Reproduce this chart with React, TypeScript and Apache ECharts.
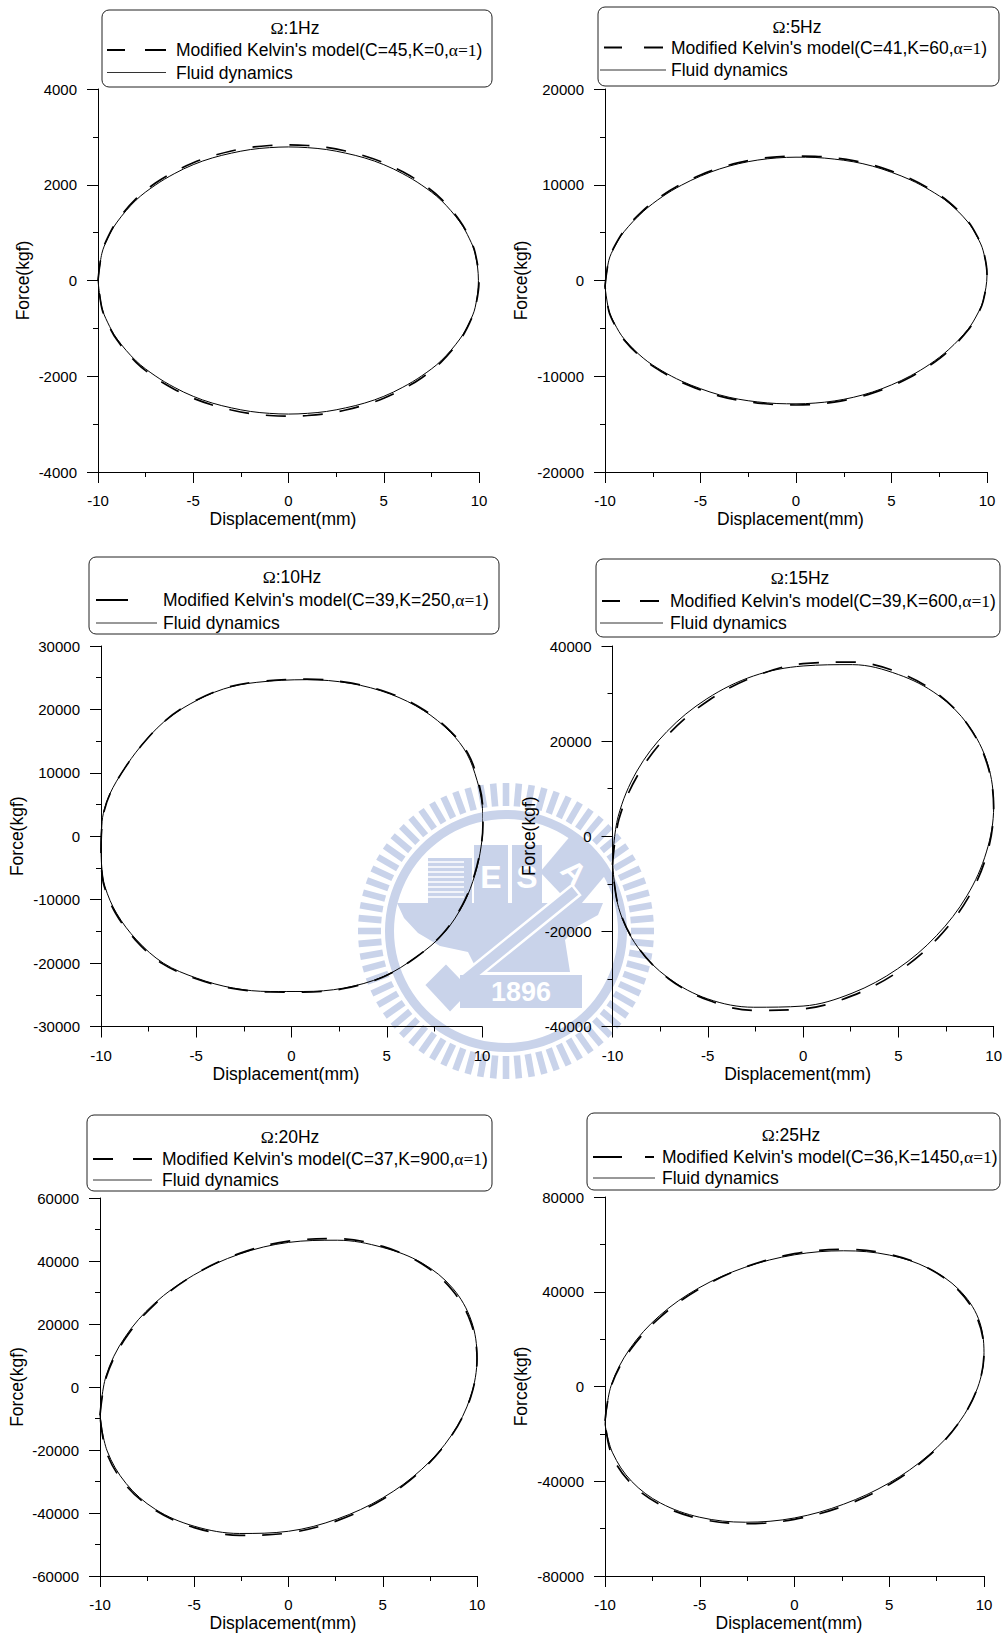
import React, { useEffect, useRef } from 'react';
import * as echarts from 'echarts';

// ---------------- DATA ----------------
const frequencies = ['1Hz', '5Hz', '10Hz', '15Hz', '20Hz', '25Hz'];
const modelParams = ['C=45,K=0,', 'C=41,K=60,', 'C=39,K=250,', 'C=39,K=600,', 'C=37,K=900,', 'C=36,K=1450,'];
const xTickValues = [-10, -5, 0, 5, 10];
// [min, max, interval] of each panel's force axis
const yRanges = [
  [-4000, 4000, 2000],
  [-20000, 20000, 10000],
  [-30000, 30000, 10000],
  [-40000, 40000, 20000],
  [-60000, 60000, 20000],
  [-80000, 80000, 40000],
];

// Ω:1Hz
const p1Fluid = [
  [-10, 0], [-9.8, 560], [-9.5, 870], [-9, 1220], [-8, 1680], [-7, 1990], [-6, 2230], [-5, 2420], [-4, 2560], [-3, 2660], [-2, 2735], [-1, 2775], [0, 2790],
  [1, 2775], [2, 2735], [3, 2660], [4, 2560], [5, 2420], [6, 2230], [7, 1990], [8, 1680], [9, 1220], [9.5, 870], [9.8, 560], [9.97, 0],
  [9.8, -560], [9.5, -870], [9, -1220], [8, -1680], [7, -1990], [6, -2230], [5, -2420], [4, -2560], [3, -2660], [2, -2735], [1, -2775], [0, -2790],
  [-1, -2775], [-2, -2735], [-3, -2660], [-4, -2560], [-5, -2420], [-6, -2230], [-7, -1990], [-8, -1680], [-9, -1220], [-9.5, -870], [-9.8, -560], [-10, 0],
];
const p1Model = [
  [-10, 0], [-9.8, 575], [-9.5, 890], [-9, 1245], [-8, 1710], [-7, 2030], [-6, 2270], [-5, 2460], [-4, 2600], [-3, 2705], [-2, 2780], [-1, 2820], [0, 2835],
  [1, 2820], [2, 2780], [3, 2705], [4, 2600], [5, 2460], [6, 2270], [7, 2030], [8, 1710], [9, 1245], [9.5, 890], [9.8, 575], [10, 0],
  [9.8, -575], [9.5, -890], [9, -1245], [8, -1710], [7, -2030], [6, -2270], [5, -2460], [4, -2600], [3, -2705], [2, -2780], [1, -2820], [0, -2835],
  [-1, -2820], [-2, -2780], [-3, -2705], [-4, -2600], [-5, -2460], [-6, -2270], [-7, -2030], [-8, -1710], [-9, -1245], [-9.5, -890], [-9.8, -575], [-10, 0],
];

// Ω:5Hz
const p2Fluid = [
  [-10, -600], [-9.8, 2100], [-9.5, 3500], [-9, 5100], [-8, 7200], [-7, 8750], [-6, 9950], [-5, 10900], [-4, 11650], [-3, 12200], [-2, 12580], [-1, 12800], [0, 12880],
  [1, 12850], [2, 12680], [3, 12400], [4, 11950], [5, 11300], [6, 10500], [7, 9450], [8, 8100], [9, 6100], [9.5, 4500], [9.8, 3100], [10, 600],
  [9.8, -2100], [9.5, -3500], [9, -5100], [8, -7200], [7, -8750], [6, -9950], [5, -10900], [4, -11650], [3, -12200], [2, -12580], [1, -12800], [0, -12880],
  [-1, -12850], [-2, -12680], [-3, -12400], [-4, -11950], [-5, -11300], [-6, -10500], [-7, -9450], [-8, -8100], [-9, -6100], [-9.5, -4500], [-9.8, -3100], [-10, -600],
];
const p2Model = [
  [-10, -600], [-9.8, 2150], [-9.5, 3580], [-9, 5200], [-8, 7330], [-7, 8880], [-6, 10080], [-5, 11020], [-4, 11760], [-3, 12310], [-2, 12700], [-1, 12920], [0, 13000],
  [1, 12970], [2, 12800], [3, 12520], [4, 12070], [5, 11420], [6, 10620], [7, 9560], [8, 8200], [9, 6200], [9.5, 4580], [9.8, 3180], [10, 600],
  [9.8, -2150], [9.5, -3580], [9, -5200], [8, -7330], [7, -8880], [6, -10080], [5, -11020], [4, -11760], [3, -12310], [2, -12700], [1, -12920], [0, -13000],
  [-1, -12970], [-2, -12800], [-3, -12520], [-4, -12070], [-5, -11420], [-6, -10620], [-7, -9560], [-8, -8200], [-9, -6200], [-9.5, -4580], [-9.8, -3180], [-10, -600],
];

// Ω:10Hz
const p3Fluid = [
  [-10, -1680], [-9.97, 1000], [-9.88, 3560], [-9.53, 6710], [-8.83, 10380], [-7.95, 14050], [-6.72, 17980], [-5.32, 20860], [-3.57, 23220], [-1.82, 24270],
  [0.81, 24690], [3.08, 24110], [5.18, 22430], [6.94, 19810], [8.34, 16400], [9.21, 13000], [9.74, 8800], [10, 5140], [10.05, 1990], [9.95, -1680],
  [9.65, -5870], [9.04, -10590], [7.99, -15300], [6.58, -18970], [4.83, -22120], [2.73, -23950], [0.63, -24480], [-1.12, -24480], [-3.05, -23950],
  [-4.97, -22380], [-6.72, -20020], [-8.13, -16350], [-9.18, -12160], [-9.79, -7970], [-9.96, -4820], [-10, -1680],
];
const p3Model = [
  [-10, -2000], [-9.97, 800], [-9.86, 3700], [-9.48, 7000], [-8.76, 10700], [-7.88, 14300], [-6.64, 18200], [-5.25, 21050], [-3.5, 23350], [-1.75, 24380],
  [0.81, 24780], [3.1, 24180], [5.2, 22520], [6.98, 19880], [8.4, 16400], [9.28, 12950], [9.8, 8700], [10.03, 5000], [10.05, 1800], [9.93, -1900],
  [9.6, -6100], [8.98, -10800], [7.9, -15500], [6.5, -19150], [4.75, -22260], [2.7, -24050], [0.6, -24580], [-1.12, -24560], [-3.1, -24000],
  [-5.05, -22430], [-6.8, -20050], [-8.2, -16330], [-9.24, -12100], [-9.83, -7900], [-9.98, -4800], [-10, -2000],
];

// Ω:15Hz
const p4Fluid = [
  [-10, -5000], [-9.7, 4200], [-8.72, 13700], [-7.15, 22000], [-5.05, 28900], [-2.6, 33700], [0, 35800], [2.59, 36080], [5, 34000], [7.07, 29700],
  [8.66, 23400], [9.68, 15300], [10, 6200], [9.62, -3300], [8.6, -12500], [7.0, -20900], [4.95, -27900], [2.57, -33000], [0, -35700],
  [-2.59, -35950], [-5, -34200], [-7.07, -29800], [-8.68, -23300], [-9.68, -15000], [-10, -5000],
];
const p4Model = [
  [-10, -6000], [-9.66, 3600], [-8.66, 12950], [-7.07, 21420], [-5, 28440], [-2.59, 33510], [0, 36300], [2.59, 36620], [5, 34440], [7.07, 29910],
  [8.66, 23350], [9.66, 15190], [10, 6000], [9.66, -3600], [8.66, -12950], [7.07, -21420], [5, -28440], [2.59, -33510], [0, -36300],
  [-2.59, -36620], [-5, -34440], [-7.07, -29910], [-8.66, -23350], [-9.66, -15190], [-10, -6000],
];

// Ω:20Hz
const p5Fluid = [
  [-10, -9300], [-9.68, 3500], [-8.7, 15600], [-7.12, 26500], [-5.04, 35500], [-2.6, 42200], [0, 45900], [2.59, 46600], [5, 44300], [7.1, 39300],
  [8.72, 31300], [9.7, 21000], [10, 9400], [9.66, -3100], [8.66, -15200], [7.07, -26100], [5, -35200], [2.59, -41900], [0, -45800],
  [-2.59, -46500], [-5, -44200], [-7.07, -38800], [-8.62, -30600], [-9.62, -20300], [-10, -9300],
];
const p5Model = [
  [-10, -9000], [-9.66, 3298], [-8.66, 15373], [-7.07, 26399], [-5, 35626], [-2.59, 42426], [0, 46334], [2.59, 47084], [5, 44626], [7.07, 39127],
  [8.66, 30961], [9.66, 20686], [10, 9000], [9.66, -3298], [8.66, -15373], [7.07, -26399], [5, -35626], [2.59, -42426], [0, -46334],
  [-2.59, -47084], [-5, -44626], [-7.07, -39127], [-8.66, -30961], [-9.66, -20686], [-10, -9000],
];

// Ω:25Hz
const p6Fluid = [
  [-10, -16000], [-9.68, 300], [-8.7, 15800], [-7.12, 29900], [-5.05, 41600], [-2.62, 50300], [0, 55600], [2.59, 57300], [5, 55500], [7.07, 49900],
  [8.68, 40900], [9.7, 28800], [10, 14300], [9.66, -600], [8.66, -15400], [7.07, -29000], [5, -40700], [2.59, -49700], [0, -55500],
  [-2.59, -57300], [-5, -55200], [-7.07, -49200], [-8.6, -40000], [-9.6, -28000], [-10, -16000],
];
const p6Model = [
  [-10, -14500], [-9.66, 513], [-8.66, 15491], [-7.07, 29413], [-5, 41330], [-2.59, 50432], [0, 56096], [2.59, 57938], [5, 55830], [7.07, 49919],
  [8.66, 40605], [9.66, 28525], [10, 14500], [9.66, -513], [8.66, -15491], [7.07, -29413], [5, -41330], [2.59, -50432], [0, -56096],
  [-2.59, -57938], [-5, -55830], [-7.07, -49919], [-8.66, -40605], [-9.66, -28525], [-10, -14500],
];

const fluidSeries = [p1Fluid, p2Fluid, p3Fluid, p4Fluid, p5Fluid, p6Fluid];
const modelSeries = [p1Model, p2Model, p3Model, p4Model, p5Model, p6Model];

// ---------------- LAYOUT ----------------
const FONT = "'Liberation Sans', Arial, sans-serif";
const SERIF = "'Liberation Serif', 'Times New Roman', serif";
const WM = '#c9d3ea';

const gridBoxes = [
  { left: 98, top: 89, width: 381, height: 383, nameGap: 66 },
  { left: 605, top: 89, width: 382, height: 383, nameGap: 75 },
  { left: 101, top: 646, width: 381, height: 380.5, nameGap: 75 },
  { left: 612.5, top: 646, width: 381.5, height: 380.5, nameGap: 75 },
  { left: 100, top: 1198, width: 377, height: 378.5, nameGap: 74 },
  { left: 605, top: 1197, width: 379, height: 379.5, nameGap: 75 },
];

const legendBoxes = [
  { box: [102, 10, 390, 77], tx: 295, rows: [28, 50, 72.5], textX: 176, dash: [[107, 125], [145, 166]], solid: [107, 166] },
  { box: [598, 7, 401, 79], tx: 797, rows: [27, 47.5, 70], textX: 671, dash: [[604, 622], [644, 663]], solid: [600, 666] },
  { box: [89, 557, 410, 77], tx: 292, rows: [577, 600, 623], textX: 163, dash: [[96, 128]], solid: [96, 157] },
  { box: [596, 559, 404, 78], tx: 800, rows: [578, 601, 623], textX: 670, dash: [[602, 620], [640, 659]], solid: [600, 663] },
  { box: [87, 1115, 405, 76], tx: 290, rows: [1137, 1159, 1180], textX: 162, dash: [[93, 113], [133, 152]], solid: [93, 152] },
  { box: [587, 1113, 413, 77], tx: 791, rows: [1135, 1157, 1178], textX: 662, dash: [[593, 622], [645, 654]], solid: [593, 655] },
];

function buildWatermark(): any[] {
  const cx = 506;
  const cy = 931;
  const els: any[] = [];
  const n = 72;
  for (let i = 0; i < n; i++) {
    els.push({
      type: 'rect', x: cx, y: cy, rotation: (i / n) * Math.PI * 2,
      shape: { x: -3.3, y: -148, width: 6.6, height: 23 },
      style: { fill: WM }, z: -10, silent: true,
    });
  }
  els.push({ type: 'ring', shape: { cx, cy, r: 121, r0: 112 }, style: { fill: WM }, z: -10, silent: true });
  // striped block
  els.push({ type: 'rect', shape: { x: 428, y: 858, width: 44, height: 45 }, style: { fill: WM }, z: -10, silent: true });
  for (let k = 0; k < 8; k++) {
    els.push({ type: 'line', shape: { x1: 428, y1: 862 + k * 5, x2: 464, y2: 862 + k * 5 }, style: { stroke: '#fff', lineWidth: 1.6 }, z: -9, silent: true });
  }
  // E and S blocks
  els.push({ type: 'rect', shape: { x: 474, y: 845, width: 34, height: 58 }, style: { fill: WM }, z: -10, silent: true });
  els.push({ type: 'rect', shape: { x: 512, y: 845, width: 30, height: 58 }, style: { fill: WM }, z: -10, silent: true });
  els.push({ type: 'text', x: 491, y: 877, style: { text: 'E', fill: '#fff', font: `bold 32px ${FONT}`, align: 'center', verticalAlign: 'middle' }, z: -9, silent: true });
  els.push({ type: 'text', x: 527, y: 877, style: { text: 'S', fill: '#fff', font: `bold 32px ${FONT}`, align: 'center', verticalAlign: 'middle' }, z: -9, silent: true });
  // A tilted box
  els.push({ type: 'polygon', shape: { points: [[572, 834], [608, 872], [576, 910], [540, 872]] }, style: { fill: WM }, z: -10, silent: true });
  els.push({ type: 'text', x: 574, y: 872, rotation: -Math.PI / 4, style: { text: 'A', fill: '#fff', font: `bold 30px ${FONT}`, align: 'center', verticalAlign: 'middle' }, z: -9, silent: true });
  // hull / anvil
  els.push({
    type: 'polygon',
    shape: { points: [[397, 903], [603, 903], [598, 915], [578, 926], [565, 940], [570, 972], [478, 972], [468, 952], [440, 946], [418, 933], [404, 918]] },
    style: { fill: WM }, z: -10, silent: true,
  });
  // hammer handle
  els.push({
    type: 'polygon',
    shape: { points: [[440, 992], [572, 885], [580, 895], [448, 1002]] },
    style: { fill: WM, stroke: '#fff', lineWidth: 2.5 }, z: -9, silent: true,
  });
  // hammer head
  els.push({ type: 'polygon', shape: { points: [[424, 985], [446, 963], [472, 990], [450, 1013]] }, style: { fill: WM, stroke: '#fff', lineWidth: 2 }, z: -9, silent: true });
  // banner 1896
  els.push({ type: 'rect', shape: { x: 460, y: 975, width: 122, height: 33 }, style: { fill: WM }, z: -9, silent: true });
  els.push({ type: 'text', x: 521, y: 992, style: { text: '1896', fill: '#fff', font: `bold 27px ${FONT}`, align: 'center', verticalAlign: 'middle' }, z: -8, silent: true });
  return els;
}

function buildLegends(): any[] {
  const els: any[] = [];
  legendBoxes.forEach((lb, i) => {
    const [bx, by, bw, bh] = lb.box;
    els.push({ type: 'rect', shape: { x: bx, y: by, width: bw, height: bh, r: 7 }, style: { fill: '#fff', stroke: '#222', lineWidth: 1 }, z: 20 });
    els.push({
      type: 'text', x: lb.tx, y: lb.rows[0], z: 21,
      style: {
        text: `{o|Ω}:${frequencies[i]}`, fill: '#000', fontFamily: FONT, fontSize: 17.5, align: 'center', verticalAlign: 'middle',
        rich: { o: { fontFamily: SERIF, fontSize: 17.5, fill: '#000' } },
      },
    });
    lb.dash.forEach((seg) => {
      els.push({ type: 'line', shape: { x1: seg[0], y1: lb.rows[1], x2: seg[1], y2: lb.rows[1] }, style: { stroke: '#000', lineWidth: 2 }, z: 21 });
    });
    els.push({
      type: 'text', x: lb.textX, y: lb.rows[1], z: 21,
      style: {
        text: `Modified Kelvin's model(${modelParams[i]}{g|α=1})`, fill: '#000', fontFamily: FONT, fontSize: 17.5, align: 'left', verticalAlign: 'middle',
        rich: { g: { fontFamily: SERIF, fontSize: 17.5, fill: '#000' } },
      },
    });
    els.push({ type: 'line', shape: { x1: lb.solid[0], y1: lb.rows[2], x2: lb.solid[1], y2: lb.rows[2] }, style: { stroke: '#333', lineWidth: 1 }, z: 21 });
    els.push({
      type: 'text', x: lb.textX, y: lb.rows[2], z: 21,
      style: { text: 'Fluid dynamics', fill: '#000', fontFamily: FONT, fontSize: 17.5, align: 'left', verticalAlign: 'middle' },
    });
  });
  return els;
}

export default function App() {
  const ref = useRef<HTMLDivElement>(null);
  useEffect(() => {
    if (!ref.current) return;
    const chart = echarts.init(ref.current, undefined, { renderer: 'svg' });
    const axisCommon = {
      axisLine: { show: true, onZero: false, lineStyle: { color: '#000', width: 1 } },
      axisTick: { show: true, inside: false, length: 11, lineStyle: { color: '#000', width: 1 } },
      minorTick: { show: true, splitNumber: 2, length: 5, lineStyle: { color: '#000', width: 1 } },
      splitLine: { show: false },
      minorSplitLine: { show: false },
    };
    const plain = (v: number) => String(v);
    const option: any = {
      animation: false,
      backgroundColor: '#fff',
      grid: gridBoxes.map((g) => ({ left: g.left, top: g.top, width: g.width, height: g.height, containLabel: false })),
      xAxis: gridBoxes.map((g, i) => ({
        type: 'value', gridIndex: i, min: xTickValues[0], max: xTickValues[xTickValues.length - 1], interval: 5,
        ...axisCommon,
        axisLabel: { color: '#000', fontSize: 15, fontFamily: FONT, margin: 21, formatter: plain },
        name: 'Displacement(mm)', nameLocation: 'middle', nameGap: 38,
        nameTextStyle: { color: '#000', fontSize: 17.5, fontFamily: FONT, padding: [0, 11, 0, 0] },
      })),
      yAxis: gridBoxes.map((g, i) => ({
        type: 'value', gridIndex: i, min: yRanges[i][0], max: yRanges[i][1], interval: yRanges[i][2],
        ...axisCommon,
        axisLabel: { color: '#000', fontSize: 15, fontFamily: FONT, margin: 21, formatter: plain },
        name: 'Force(kgf)', nameLocation: 'middle', nameGap: g.nameGap, nameRotate: 90,
        nameTextStyle: { color: '#000', fontSize: 17.5, fontFamily: FONT },
      })),
      series: [
        ...fluidSeries.map((d, i) => ({
          type: 'line', xAxisIndex: i, yAxisIndex: i, data: d, showSymbol: false, symbol: 'none', smooth: 0.35, clip: false, silent: true,
          lineStyle: { color: '#000', width: 1 }, z: 3,
        })),
        ...modelSeries.map((d, i) => ({
          type: 'line', xAxisIndex: i, yAxisIndex: i, data: d, showSymbol: false, symbol: 'none', smooth: 0.35, clip: false, silent: true,
          lineStyle: { color: '#000', width: 1.7, type: [20, 17] }, z: 4,
        })),
      ],
      graphic: [...buildWatermark(), ...buildLegends()],
    };
    chart.setOption(option);
    return () => chart.dispose();
  }, []);
  return <div ref={ref} style={{ position: 'absolute', left: 0, top: 0, width: 1005, height: 1633, background: '#fff' }} />;
}
